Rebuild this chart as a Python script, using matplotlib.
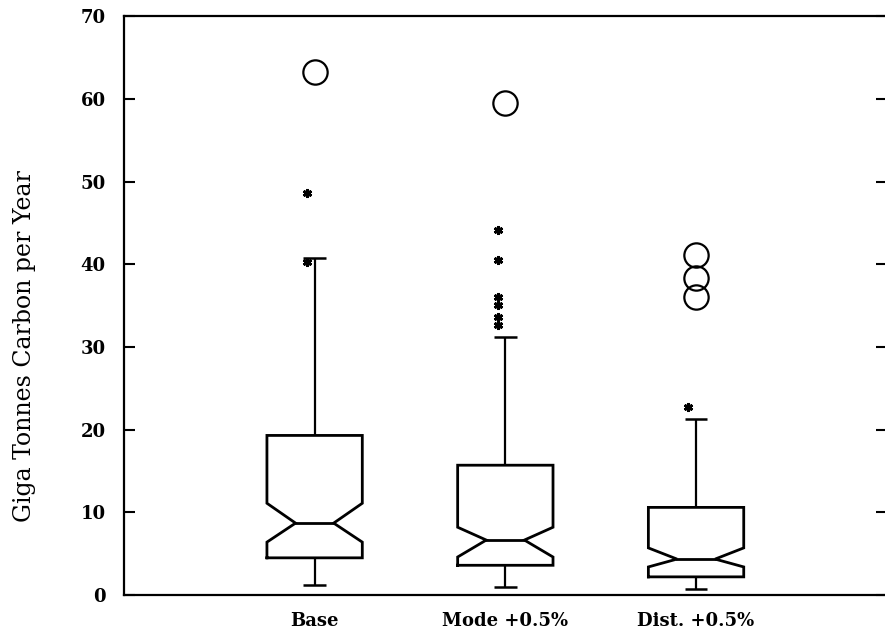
import numpy as np
import matplotlib
matplotlib.use("Agg")
import matplotlib.pyplot as plt

# 箱ひげ図の統計値
labels = ["Base", "Mode +0.5%", "Dist. +0.5%"]
q1 = [4.5, 3.6, 2.2]
med = [8.7, 6.65, 4.35]
q3 = [19.3, 15.7, 10.6]
whislo = [1.2, 1.0, 0.7]
whishi = [40.8, 31.2, 21.3]
cilo = [6.4, 4.6, 3.4]
cihi = [11.1, 8.2, 5.7]
# 外れ値（*）と極端値（○）
outliers = [[40.3, 48.6],
            [44.1, 40.5, 36.0, 35.1, 33.6, 32.6],
            [22.7]]
extremes = [[63.2], [59.5], [41.1, 38.3, 36.0]]

yticks = [0, 10, 20, 30, 40, 50, 60, 70]

plt.rcParams['font.family'] = ['DejaVu Serif']

fig = plt.figure(figsize=(8.85, 6.44), dpi=100)
ax = fig.add_axes([0.140, 0.076, 0.862, 0.899])

pos = np.arange(1, len(labels) + 1)
hw = 0.25    # 箱の半幅
nw = 0.10    # ノッチ部分の半幅
cw = 0.06    # キャップの半幅

for i, p in enumerate(pos):
    # ノッチ付きの箱
    xs = [p - hw, p - hw, p - nw, p - hw, p - hw, p + hw, p + hw, p + nw, p + hw, p + hw, p - hw]
    ys = [q1[i], cilo[i], med[i], cihi[i], q3[i], q3[i], cihi[i], med[i], cilo[i], q1[i], q1[i]]
    ax.plot(xs, ys, color="black", linewidth=2.0, solid_joinstyle="miter")
    ax.plot([p - nw, p + nw], [med[i], med[i]], color="black", linewidth=2.0)
    # ひげとキャップ
    ax.vlines(p, q3[i], whishi[i], color="black", linewidth=1.6)
    ax.vlines(p, whislo[i], q1[i], color="black", linewidth=1.6)
    ax.hlines([whislo[i], whishi[i]], p - cw, p + cw, color="black", linewidth=1.8)

    ax.plot([p - 0.04] * len(outliers[i]), outliers[i], linestyle="none",
            marker=(6, 2, 0), markersize=6.5, markeredgewidth=2.0, color="black")
    ax.plot([p] * len(extremes[i]), extremes[i], linestyle="none",
            marker="o", markersize=17.5, markerfacecolor="none",
            markeredgewidth=1.6, markeredgecolor="black")

ax.set_xlim(0, 4)
ax.set_ylim(0, 70)
ax.set_yticks(yticks)
ax.set_xticks(pos)
ax.set_xticklabels(labels, fontsize=13, fontweight="bold")
ax.tick_params(axis="x", length=0, pad=12)
ax.tick_params(axis="y", direction="in", length=8, width=1.5, pad=13,
               labelsize=13, right=True)
for t in ax.get_yticklabels():
    t.set_fontweight("bold")
for s in ax.spines.values():
    s.set_linewidth(1.6)

ax.set_ylabel("Giga Tonnes Carbon per Year", fontsize=17)
ax.yaxis.set_label_coords(-0.115, 0.43)

fig.savefig("out.png", dpi=100)
